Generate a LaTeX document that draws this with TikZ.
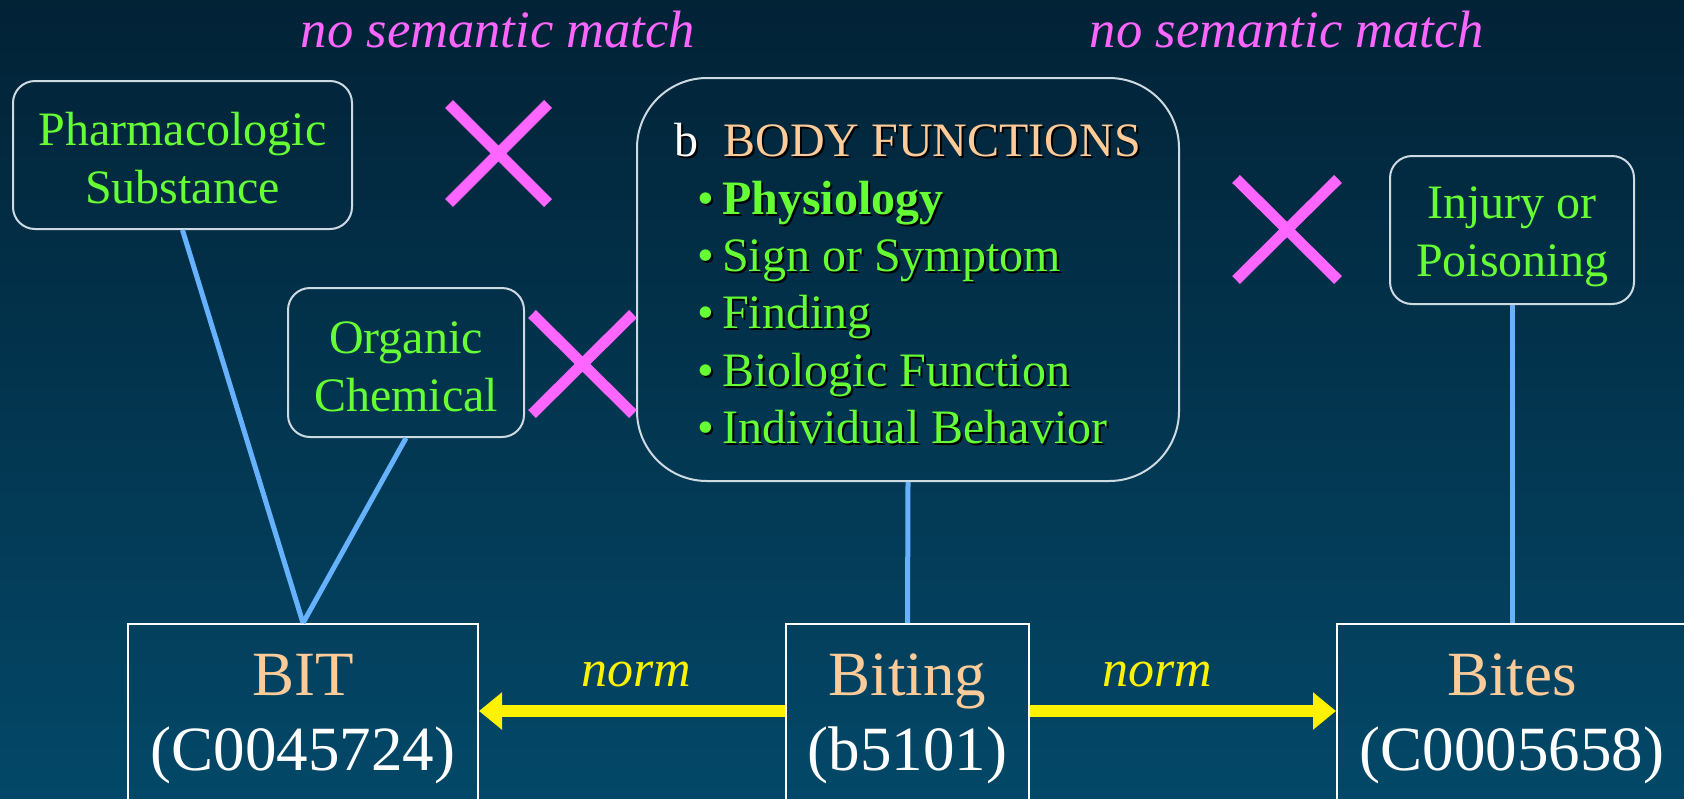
\documentclass[tikz,border=0pt]{standalone}
\usepackage{fontspec}
\setmainfont{Liberation Serif}
\usetikzlibrary{arrows.meta}
\definecolor{bgtop}{RGB}{2,34,54}
\definecolor{bgbot}{RGB}{3,72,104}
\definecolor{lime}{RGB}{102,255,51}
\definecolor{peach}{RGB}{255,204,153}
\definecolor{pinkx}{RGB}{255,102,255}
\definecolor{linkblue}{RGB}{102,178,255}
\definecolor{boxline}{RGB}{205,218,226}
% text with a small black drop shadow, set as one box
\newcommand{\shadowtxt}[2]{\makebox[0pt][l]{\hspace{1pt}\raisebox{-1pt}{\color{black}#2}}\textcolor{#1}{#2}}
\tikzset{
  catbox/.style={draw=boxline, line width=1pt, rounded corners=11pt, inner sep=0pt},
  cattxt/.style={align=center, text=lime, font=\fontsize{24pt}{29pt}\selectfont, inner sep=0pt},
  conbox/.style={draw=white, line width=1pt, align=center, text=white,
    font=\fontsize{31.5pt}{37.5pt}\selectfont, inner sep=0pt,
    minimum width=175pt, minimum height=95pt},
  conn/.style={draw=linkblue, line width=2.5pt},
  normarrow/.style={draw=yellow, line width=6pt,
    -{Triangle[length=11.5pt,width=18pt]}},
  crossmark/.style={draw=pinkx, line width=5.5pt},
  nomatch/.style={text=pinkx, font=\fontsize{26.3pt}{30pt}\selectfont\itshape, inner sep=0pt},
  normlbl/.style={text=yellow, font=\fontsize{26pt}{30pt}\selectfont\itshape, inner sep=0pt},
  listtxt/.style={anchor=base west, inner sep=0pt, font=\fontsize{24pt}{29pt}\selectfont},
}
\begin{document}
\begin{tikzpicture}[x=0.5pt,y=-0.5pt]
\useasboundingbox (0,0) rectangle (1684,798);
\shade[top color=bgtop,bottom color=bgbot] (0,0) rectangle (1684,798);

% top labels
\node[nomatch] (nm1) at (498,30) {no semantic match};
\node[nomatch] (nm2) at (1287,30) {no semantic match};

% category boxes
\node[catbox, minimum width=169.5pt, minimum height=74pt] (pharm) at (182.5,155) {};
\node[cattxt] (pharmt) at (182.5,158) {Pharmacologic\\Substance};
\node[catbox, minimum width=118pt, minimum height=74.5pt] (organic) at (406,362.5) {};
\node[cattxt] (organict) at (406,366.5) {Organic\\Chemical};
\node[catbox, minimum width=122pt, minimum height=74pt] (injury) at (1512,230) {};
\node[cattxt] (injuryt) at (1512,237) {Injury or\\Poisoning};
\node[draw=boxline, line width=1pt, rounded corners=35pt, minimum width=271pt, minimum height=201.5pt, inner sep=0pt] (body) at (908,279.5) {};

% body box text with shadows
\node[listtxt] (bb) at (674,156) {\shadowtxt{white}{b}};
\node[listtxt] (bf) at (723,156) {\shadowtxt{peach}{BODY FUNCTIONS}};
\foreach \i/\y/\t in {1/214/{\bfseries Physiology}, 2/271/{Sign or Symptom}, 3/328/{Finding}, 4/386/{Biologic Function}, 5/443/{Individual Behavior}}{
  \node[listtxt] (it\i) at (697,\y) {\shadowtxt{lime}{\textbullet\hspace{4pt}\t}};
}

% crosses
\draw[crossmark] (449,104) -- (548,203) (449,203) -- (548,104);
\draw[crossmark] (532,314) -- (633,414) (532,414) -- (633,314);
\draw[crossmark] (1236,179) -- (1338,280) (1236,280) -- (1338,179);

% concept boxes
\node[conbox] (bit) at (303,719) {\textcolor{peach}{BIT}\\(C0045724)};
\node[conbox, minimum width=121.5pt] (biting) at (907.5,719) {\textcolor{peach}{Biting}\\(b5101)};
\node[conbox] (bites) at (1512,719) {\textcolor{peach}{Bites}\\(C0005658)};

% connectors
\draw[conn] (pharm.south) -- (bit.north);
\draw[conn] (organic.south) -- (bit.north);
\draw[conn] (body.south) -- (biting.north);
\draw[conn] (injury.south) -- (bites.north);

\coordinate (ay) at (0,711);
\draw[normarrow] (biting.west |- ay) -- (bit.east |- ay);
\draw[normarrow] (biting.east |- ay) -- (bites.west |- ay);
\node[normlbl] (n1) at (636,674) {norm};
\node[normlbl] (n2) at (1157,674) {norm};
\end{tikzpicture}
\end{document}
